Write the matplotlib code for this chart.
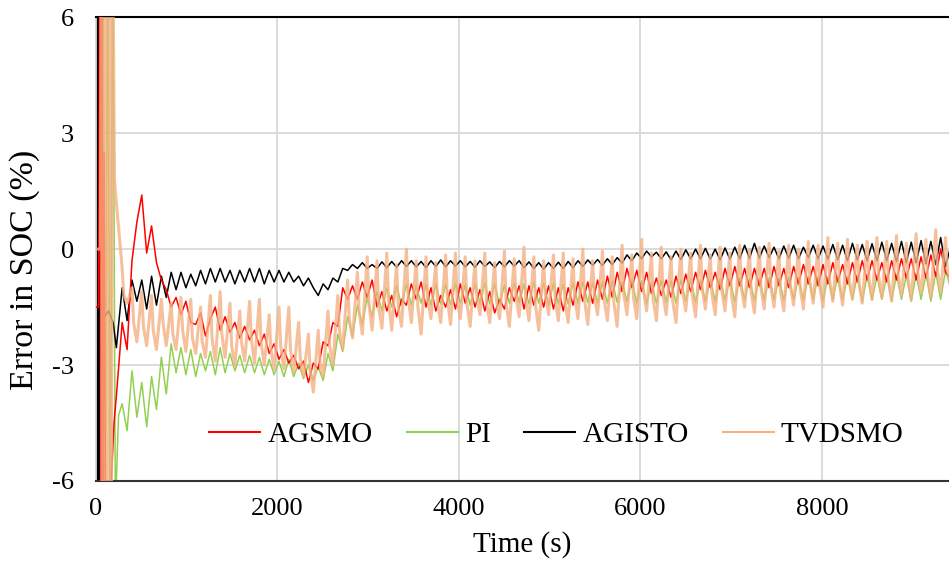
import numpy as np
import matplotlib
matplotlib.use("Agg")
import matplotlib.pyplot as plt

# ---- start-up transients (time in s, SOC error in %) ----
agisto_t0 = [0, 4, 8, 12, 16, 20, 24, 28, 32, 36, 40, 50, 80, 140, 190, 226]
agisto_v0 = [0, 9, -9, 9, -9, 9, -9, 9, -9, 9, -9, -1.7, -1.8, -1.6, -1.9, -2.55]

agsmo_t0 = [0, 30, 45, 55, 65, 75, 90, 110, 140, 170, 200, 226]
agsmo_v0 = [-1.5, -1.5, 9, -9, 9, -9, 2.5, -9, -8.0, -6.0, -4.5, -3.8]

pi_t0 = [0, 20, 40, 60, 80, 100, 130, 160, 185, 215, 250]
pi_v0 = [-1.0, -0.7, -1.0, -0.8, 9, -9, 9, -9, 9, -6.8, -4.3]

tvdsmo_t0 = [0, 50, 60, 70, 80, 90, 100, 110, 120, 130, 140, 150, 160, 170, 185, 205, 230, 260]
tvdsmo_v0 = [0, 0, 9, -9, 9, -9, 9, -9, 9, -9, 9, -9, 9, -9, 9, 1.8, 1.1, 0.3]

# ---- main record, sampled every 54 s from 290 s ----
t_start, t_step, n_samples = 290, 54, 170

agsmo = [
    -1.9, -2.6, -0.3, 0.7, 1.4, -0.1, 0.6, -0.35, -0.8, -1.05,
    -1.5, -1.25, -1.7, -1.35, -1.9, -1.95, -1.65, -2.25, -1.8, -1.5,
    -2.1, -1.75, -2.15, -1.9, -2.3, -2.0, -2.35, -2.1, -2.5, -2.2,
    -2.7, -2.45, -2.85, -2.6, -2.95, -2.75, -3.1, -2.9, -3.45, -2.95,
    -3.1, -2.4, -2.5, -1.9, -2.0, -1.0, -1.3, -0.95, -1.3, -0.85,
    -1.25, -0.8, -1.5, -1.1, -1.6, -1.2, -1.75, -1.3, -1.45, -0.9,
    -1.3, -0.85, -1.5, -1.0, -1.6, -1.2, -1.5, -1.05, -1.55, -0.9,
    -1.4, -1.0, -1.5, -1.05, -1.6, -1.1, -1.65, -1.3, -1.55, -1.0,
    -1.35, -0.95, -1.55, -0.95, -1.45, -1.0, -1.5, -0.95, -1.55, -1.0,
    -1.6, -1.0, -1.45, -0.85, -1.35, -0.85, -1.4, -0.8, -1.3, -0.7,
    -1.25, -0.6, -1.1, -0.5, -1.0, -0.55, -1.1, -0.6, -1.15, -0.75,
    -1.2, -0.8, -1.25, -0.7, -1.15, -0.65, -1.1, -0.6, -1.05, -0.55,
    -1.0, -0.6, -1.05, -0.5, -0.95, -0.45, -0.95, -0.5, -1.0, -0.5,
    -0.95, -0.5, -1.0, -0.45, -0.95, -0.5, -1.0, -0.45, -0.9, -0.4,
    -0.9, -0.45, -0.95, -0.4, -0.9, -0.35, -0.85, -0.4, -0.9, -0.35,
    -0.85, -0.3, -0.8, -0.3, -0.8, -0.35, -0.85, -0.3, -0.8, -0.25,
    -0.75, -0.25, -0.8, -0.2, -0.75, -0.15, -0.7, 0.0, -0.6, -0.75,
]

pi = [
    -4.0, -4.7, -3.15, -4.35, -3.45, -4.6, -3.3, -4.15, -2.8, -3.75,
    -2.45, -3.2, -2.55, -3.25, -2.6, -3.3, -2.7, -3.15, -2.65, -3.25,
    -2.55, -3.2, -2.7, -3.15, -2.75, -3.2, -2.75, -3.2, -2.8, -3.25,
    -2.85, -3.25, -2.9, -3.3, -2.85, -3.3, -2.95, -3.35, -3.0, -3.4,
    -3.05, -3.4, -2.7, -3.15, -2.2, -2.65, -1.75, -2.25, -1.45, -1.95,
    -1.25, -1.75, -1.1, -1.6, -1.0, -1.5, -0.95, -1.45, -0.9, -1.45,
    -0.95, -1.4, -0.9, -1.45, -0.9, -1.42, -0.92, -1.44, -0.88, -1.4,
    -0.92, -1.45, -0.9, -1.4, -0.88, -1.42, -0.9, -1.45, -0.92, -1.4,
    -0.88, -1.38, -0.9, -1.42, -0.85, -1.4, -0.88, -1.45, -0.88, -1.42,
    -0.9, -1.42, -0.87, -1.4, -0.85, -1.38, -0.88, -1.4, -0.85, -1.4,
    -0.82, -1.38, -0.85, -1.35, -0.8, -1.4, -0.82, -1.42, -0.85, -1.4,
    -0.8, -1.38, -0.82, -1.4, -0.8, -1.35, -0.78, -1.38, -0.8, -1.35,
    -0.78, -1.36, -0.76, -1.32, -0.78, -1.35, -0.75, -1.3, -0.76, -1.33,
    -0.75, -1.32, -0.74, -1.3, -0.75, -1.32, -0.72, -1.3, -0.74, -1.32,
    -0.72, -1.3, -0.7, -1.33, -0.72, -1.3, -0.7, -1.32, -0.72, -1.3,
    -0.68, -1.35, -0.69, -1.32, -0.7, -1.3, -0.68, -1.33, -0.66, -1.3,
    -0.68, -1.35, -0.65, -1.3, -0.64, -1.35, -0.6, -1.3, -0.55, -1.0,
]

agisto = [
    -1.0, -1.85, -0.8, -1.35, -0.8, -1.55, -0.7, -1.45, -0.7, -1.25,
    -0.6, -1.05, -0.6, -1.0, -0.65, -0.95, -0.55, -0.9, -0.5, -0.85,
    -0.5, -0.85, -0.55, -0.9, -0.55, -0.85, -0.5, -0.85, -0.5, -0.9,
    -0.55, -0.85, -0.55, -0.85, -0.6, -0.85, -0.7, -0.95, -0.75, -1.0,
    -1.2, -0.9, -1.05, -0.75, -0.85, -0.5, -0.55, -0.4, -0.5, -0.35,
    -0.5, -0.4, -0.5, -0.33, -0.48, -0.32, -0.47, -0.3, -0.45, -0.3,
    -0.46, -0.32, -0.48, -0.3, -0.45, -0.28, -0.46, -0.3, -0.44, -0.3,
    -0.46, -0.32, -0.47, -0.3, -0.45, -0.33, -0.48, -0.32, -0.46, -0.3,
    -0.44, -0.3, -0.48, -0.33, -0.5, -0.35, -0.52, -0.35, -0.5, -0.34,
    -0.5, -0.32, -0.48, -0.3, -0.45, -0.28, -0.42, -0.27, -0.42, -0.25,
    -0.4, -0.22, -0.36, -0.15, -0.3, -0.1, -0.25, -0.05, -0.2, -0.08,
    -0.25, -0.07, -0.28, -0.05, -0.27, -0.02, -0.25, 0.0, -0.25, 0.02,
    -0.26, 0.0, -0.28, 0.03, -0.26, 0.05, -0.25, 0.1, -0.24, 0.15,
    -0.23, 0.08, -0.22, 0.05, -0.25, 0.08, -0.24, 0.1, -0.25, 0.05,
    -0.22, 0.1, -0.25, 0.08, -0.26, 0.12, -0.28, 0.1, -0.3, 0.15,
    -0.28, 0.12, -0.3, 0.14, -0.3, 0.18, -0.3, 0.15, -0.32, 0.2,
    -0.35, 0.18, -0.35, 0.22, -0.38, 0.2, -0.4, 0.3, -0.45, 0.05,
]

# TVDSMO: alternating spike tops and troughs on the 54 s grid ...
tvdsmo = [
    -0.5, -1.4, -1.0, -2.4, -1.1, -2.5, -1.2, -2.6, -1.3, -2.5,
    -1.4, -2.6, -1.25, -2.65, -1.3, -2.7, -1.5, -2.8, -1.2, -2.9,
    -1.1, -2.8, -1.4, -3.0, -1.6, -2.9, -1.35, -2.95, -1.3, -3.0,
    -1.7, -3.1, -1.5, -3.1, -1.5, -3.2, -1.9, -3.3, -2.2, -3.7,
    -2.1, -3.3, -1.6, -3.0, -1.2, -2.6, -0.8, -2.3, -0.6, -2.2,
    -0.2, -2.1, -0.3, -2.05, -0.1, -2.1, -0.4, -2.0, 0.0, -1.9,
    -0.3, -2.2, -0.2, -1.8, -0.35, -1.9, -0.15, -1.95, -0.1, -1.8,
    -0.2, -2.0, -0.3, -1.7, -0.1, -1.9, -0.35, -1.8, -0.05, -2.0,
    -0.25, -1.75, 0.05, -1.85, -0.2, -2.1, -0.3, -1.7, -0.15, -1.85,
    -0.1, -1.9, -0.25, -1.8, 0.0, -1.95, -0.3, -1.7, -0.05, -1.85,
    -0.2, -2.0, 0.1, -1.7, -0.15, -1.8, 0.25, -1.6, -0.1, -1.85,
    0.05, -1.7, -0.2, -1.9, 0.0, -1.6, -0.1, -1.75, 0.1, -1.55,
    -0.15, -1.7, 0.05, -1.6, -0.1, -1.75, 0.1, -1.5, 0.0, -1.65,
    0.05, -1.55, 0.15, -1.5, -0.05, -1.6, 0.1, -1.45, 0.0, -1.55,
    0.2, -1.4, 0.1, -1.5, 0.3, -1.35, 0.15, -1.45, 0.25, -1.3,
    0.1, -1.4, 0.2, -1.3, 0.3, -1.25, 0.2, -1.35, 0.35, -1.2,
    0.15, -1.3, 0.4, -1.15, 0.25, -1.25, 0.5, -1.1, 0.3, -0.9,
]
# ... and the shoulder each spike falls back to, 18 s after its top
tvdsmo_shoulder = [
    -1.2, -1.9, -2.0, -2.1, -1.9, -2.2, -2.1, -2.3, -2.4, -2.3,
    -2.2, -2.5, -2.4, -2.3, -2.4, -2.6, -2.5, -2.6, -2.8, -3.1,
    -2.9, -2.5, -2.1, -1.8, -1.6, -1.4, -1.5, -1.3, -1.5, -1.2,
    -1.5, -1.3, -1.4, -1.25, -1.3, -1.4, -1.2, -1.35, -1.3, -1.4,
    -1.2, -1.3, -1.45, -1.15, -1.3, -1.35, -1.25, -1.3, -1.2, -1.3,
    -1.4, -1.15, -1.25, -1.05, -1.3, -1.15, -1.35, -1.1, -1.2, -1.0,
    -1.15, -1.05, -1.2, -1.0, -1.1, -1.0, -0.95, -1.1, -0.95, -1.0,
    -0.85, -0.95, -0.8, -0.9, -0.8, -0.85, -0.75, -0.7, -0.8, -0.65,
    -0.75, -0.6, -0.7, -0.55, -0.5,
]

t_main = t_start + t_step * np.arange(n_samples)


def full_series(t0, v0, main):
    return np.concatenate([t0, t_main]), np.concatenate([v0, main])


def tvdsmo_series():
    tops_t, tops_v = t_main[0::2], np.asarray(tvdsmo[0::2])
    lows_t, lows_v = t_main[1::2], np.asarray(tvdsmo[1::2])
    t = np.column_stack([tops_t, tops_t + 18, lows_t]).ravel()
    v = np.column_stack([tops_v, tvdsmo_shoulder, lows_v]).ravel()
    return np.concatenate([tvdsmo_t0, t]), np.concatenate([tvdsmo_v0, v])


plt.rcParams["font.family"] = ["Liberation Serif", "DejaVu Serif"]

fig = plt.figure(figsize=(9.49, 5.76), dpi=100)
ax = fig.add_axes([0.101, 0.165, 0.899, 0.805])

t, v = full_series(agsmo_t0, agsmo_v0, agsmo)
ax.plot(t, v, label="AGSMO", color="#FF0000", lw=1.1, zorder=3)
t, v = full_series(pi_t0, pi_v0, pi)
ax.plot(t, v, label="PI", color="#92D050", lw=1.1, zorder=2)
t, v = full_series(agisto_t0, agisto_v0, agisto)
ax.plot(t, v, label="AGISTO", color="#000000", lw=1.1, zorder=2.5)
t, v = tvdsmo_series()
ax.plot(t, v, label="TVDSMO", color="#F4B183", lw=2.2, alpha=0.8, zorder=4)

ax.set_xlim(0, 9400)
ax.set_ylim(-6, 6)
ax.set_xticks([0, 2000, 4000, 6000, 8000])
ax.set_yticks([-6, -3, 0, 3, 6])
ax.set_yticklabels(["-6", "-3", "0", "3", "6"])

ax.grid(True, color="#D9D9D9", lw=1.3, zorder=0)
ax.set_axisbelow(True)
ax.tick_params(length=0, labelsize=19)
ax.tick_params(axis="y", pad=16)
ax.tick_params(axis="x", pad=12)

ax.spines["right"].set_visible(False)
ax.spines["left"].set_color("#D9D9D9")
ax.spines["left"].set_linewidth(1.3)
ax.spines["top"].set_color("#000000")
ax.spines["top"].set_linewidth(1.5)
ax.spines["bottom"].set_color("#333333")
ax.spines["bottom"].set_linewidth(1.5)

ax.set_xlabel("Time (s)", fontsize=21, labelpad=8)
ax.set_ylabel("Error in SOC (%)", fontsize=24.5)
ax.yaxis.set_label_coords(-0.066, 0.455)

leg = ax.legend(loc="center", bbox_to_anchor=(0.54, 0.1), ncol=4, frameon=False,
                fontsize=21, handlelength=1.75, handletextpad=0.25, columnspacing=1.15)
for h in leg.get_lines():
    h.set_linewidth(1.5)
    h.set_alpha(1.0)
leg.set_zorder(5)

fig.savefig("out.png", dpi=100)
